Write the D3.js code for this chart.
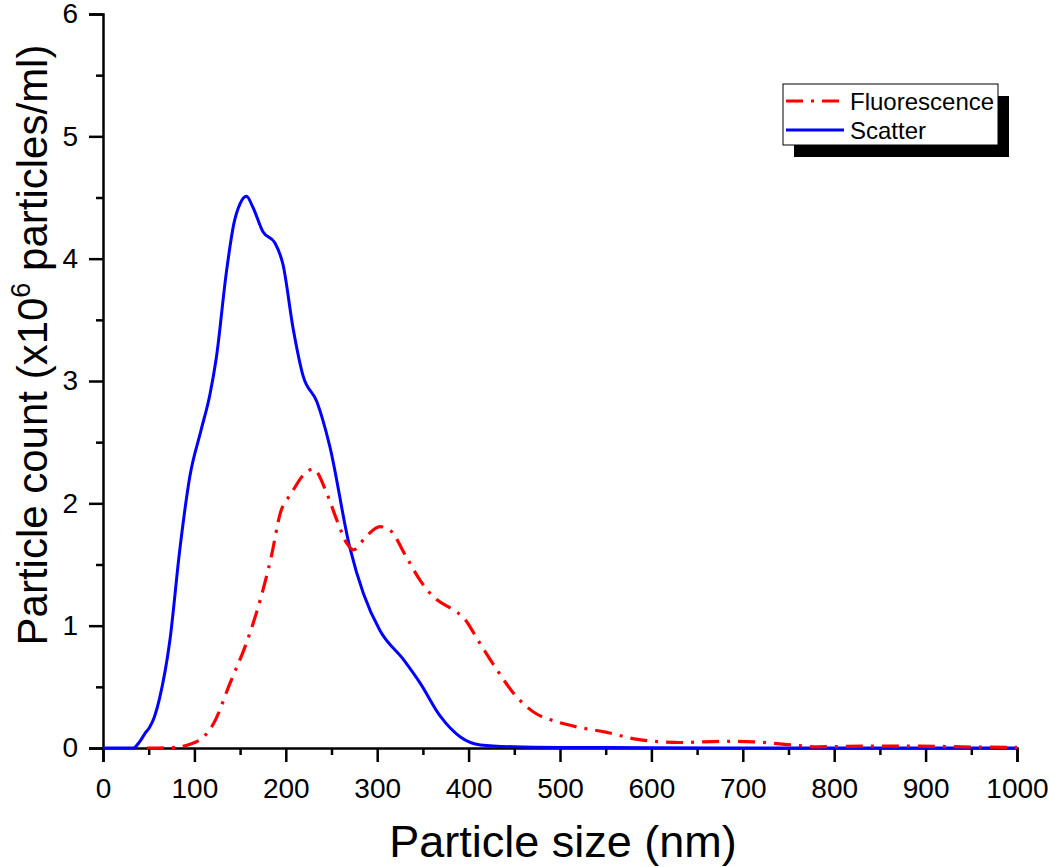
<!DOCTYPE html>
<html>
<head>
<meta charset="utf-8">
<script src="https://cdn.jsdelivr.net/npm/d3@7"></script>
<style>
  html, body { margin: 0; padding: 0; background: #fff; }
  svg { display: block; font-family: "Liberation Sans", Arial, Helvetica, sans-serif; }
</style>
</head>
<body>
<svg id="chart" width="1050" height="867"></svg>
<script>
// ---- data ----
const scatterSize = [0, 33, 40, 46, 51, 56, 62, 73, 84, 95, 107, 117, 124, 135, 143, 150, 157, 164, 175, 188, 197, 208, 219, 234, 248, 270, 285, 303, 329, 347, 369, 391, 413, 449, 500, 600, 700, 800, 900, 1000];
const scatterCount = [0, 0, 0.05, 0.12, 0.17, 0.25, 0.41, 0.87, 1.62, 2.22, 2.59, 2.89, 3.19, 3.89, 4.28, 4.45, 4.51, 4.42, 4.22, 4.13, 3.95, 3.43, 3.04, 2.83, 2.47, 1.64, 1.26, 0.96, 0.72, 0.53, 0.26, 0.09, 0.025, 0.01, 0.005, 0.003, 0, 0, 0, 0];

const fluorSize = [48, 60, 80, 95, 110, 121, 139, 157, 172, 184, 194, 206, 219, 230, 245, 256, 267, 274, 288, 303, 314, 332, 347, 361, 383, 394, 412, 431, 449, 474, 490, 520, 550, 585, 631, 681, 712, 746, 781, 835, 892, 950, 1000];
const fluorCount = [0, 0, 0.005, 0.03, 0.09, 0.2, 0.53, 0.86, 1.21, 1.56, 1.92, 2.08, 2.23, 2.28, 2.08, 1.86, 1.67, 1.62, 1.73, 1.81, 1.78, 1.56, 1.37, 1.24, 1.13, 1.07, 0.86, 0.64, 0.45, 0.28, 0.23, 0.17, 0.13, 0.07, 0.045, 0.055, 0.05, 0.03, 0.01, 0.015, 0.015, 0.008, 0.005];

const seriesNames = ["Fluorescence", "Scatter"];
const xMajorTicks = [0, 100, 200, 300, 400, 500, 600, 700, 800, 900, 1000];
const xMinorTicks = [50, 150, 250, 350, 450, 550, 650, 750, 850, 950];
const yMajorTicks = [0, 1, 2, 3, 4, 5, 6];
const yMinorTicks = [0.5, 1.5, 2.5, 3.5, 4.5, 5.5];

// ---- layout ----
const svg = d3.select("#chart");
const x = d3.scaleLinear().domain([0, 1000]).range([103, 1017]);
const y = d3.scaleLinear().domain([0, 6]).range([748, 14]);

const axisW = 2.5;
const font = "Liberation Sans, Arial, sans-serif";

// x axis
const gx = svg.append("g").attr("transform", `translate(0,${y(0)})`);
gx.call(d3.axisBottom(x).tickValues(xMajorTicks).tickSize(14).tickPadding(16).tickFormat(d3.format("d")));
const gxm = svg.append("g").attr("transform", `translate(0,${y(0)})`);
gxm.call(d3.axisBottom(x).tickValues(xMinorTicks).tickSize(7).tickFormat(""));
gxm.select(".domain").remove();
// y axis
const gy = svg.append("g").attr("transform", `translate(${x(0)},0)`);
gy.call(d3.axisLeft(y).tickValues(yMajorTicks).tickSize(14).tickPadding(11).tickFormat(d3.format("d")));
const gym = svg.append("g").attr("transform", `translate(${x(0)},0)`);
gym.call(d3.axisLeft(y).tickValues(yMinorTicks).tickSize(7).tickFormat(""));
gym.select(".domain").remove();

svg.selectAll(".domain").attr("stroke", "#000").attr("stroke-width", axisW);
svg.selectAll(".tick line").attr("stroke", "#000").attr("stroke-width", axisW);
svg.selectAll(".tick text").attr("font-size", 28).attr("fill", "#000").attr("font-family", font);

// axis titles
svg.append("text")
  .attr("x", x(500) + 3).attr("y", 857)
  .attr("text-anchor", "middle").attr("font-size", 45).attr("fill", "#000").attr("font-family", font)
  .text("Particle size (nm)");

const yt = svg.append("text")
  .attr("transform", `translate(47,345) rotate(-90)`)
  .attr("text-anchor", "middle").attr("font-size", 42).attr("fill", "#000").attr("font-family", font);
yt.append("tspan").text("Particle count (x10");
yt.append("tspan").attr("font-size", 27).attr("dy", -17).text("6");
yt.append("tspan").attr("dy", 17).text(" particles/ml)");

// ---- lines ----
const line = d3.line().x(d => x(d[0])).y(d => y(d[1])).curve(d3.curveMonotoneX);
const scatterData = scatterSize.map((s, i) => [s, scatterCount[i]]);
const fluorData = fluorSize.map((s, i) => [s, fluorCount[i]]);

svg.append("path").datum(scatterData)
  .attr("d", line).attr("fill", "none").attr("stroke", "#0000ff").attr("stroke-width", 3);
svg.append("path").datum(fluorData)
  .attr("d", line).attr("fill", "none").attr("stroke", "#ff0000").attr("stroke-width", 3.2)
  .attr("stroke-dasharray", "17,8,3,8");

// ---- legend ----
const lg = svg.append("g").attr("transform", "translate(783,84)");
lg.append("rect").attr("x", 11).attr("y", 12).attr("width", 215).attr("height", 61).attr("fill", "#000");
lg.append("rect").attr("x", 0).attr("y", 0).attr("width", 215).attr("height", 61).attr("fill", "#fff").attr("stroke", "#000").attr("stroke-width", 1);
const legendItems = [
  { name: seriesNames[0], color: "#ff0000", dash: "17,8,3,8", yy: 17 },
  { name: seriesNames[1], color: "#0000ff", dash: null, yy: 46 }
];
legendItems.forEach(it => {
  lg.append("line").attr("x1", 3).attr("x2", 61).attr("y1", it.yy).attr("y2", it.yy)
    .attr("stroke", it.color).attr("stroke-width", 3.2).attr("stroke-dasharray", it.dash);
  lg.append("text").attr("x", 67).attr("y", it.yy + 8.5).attr("font-size", 24).attr("fill", "#000")
    .attr("font-family", font).text(it.name);
});
</script>
</body>
</html>
